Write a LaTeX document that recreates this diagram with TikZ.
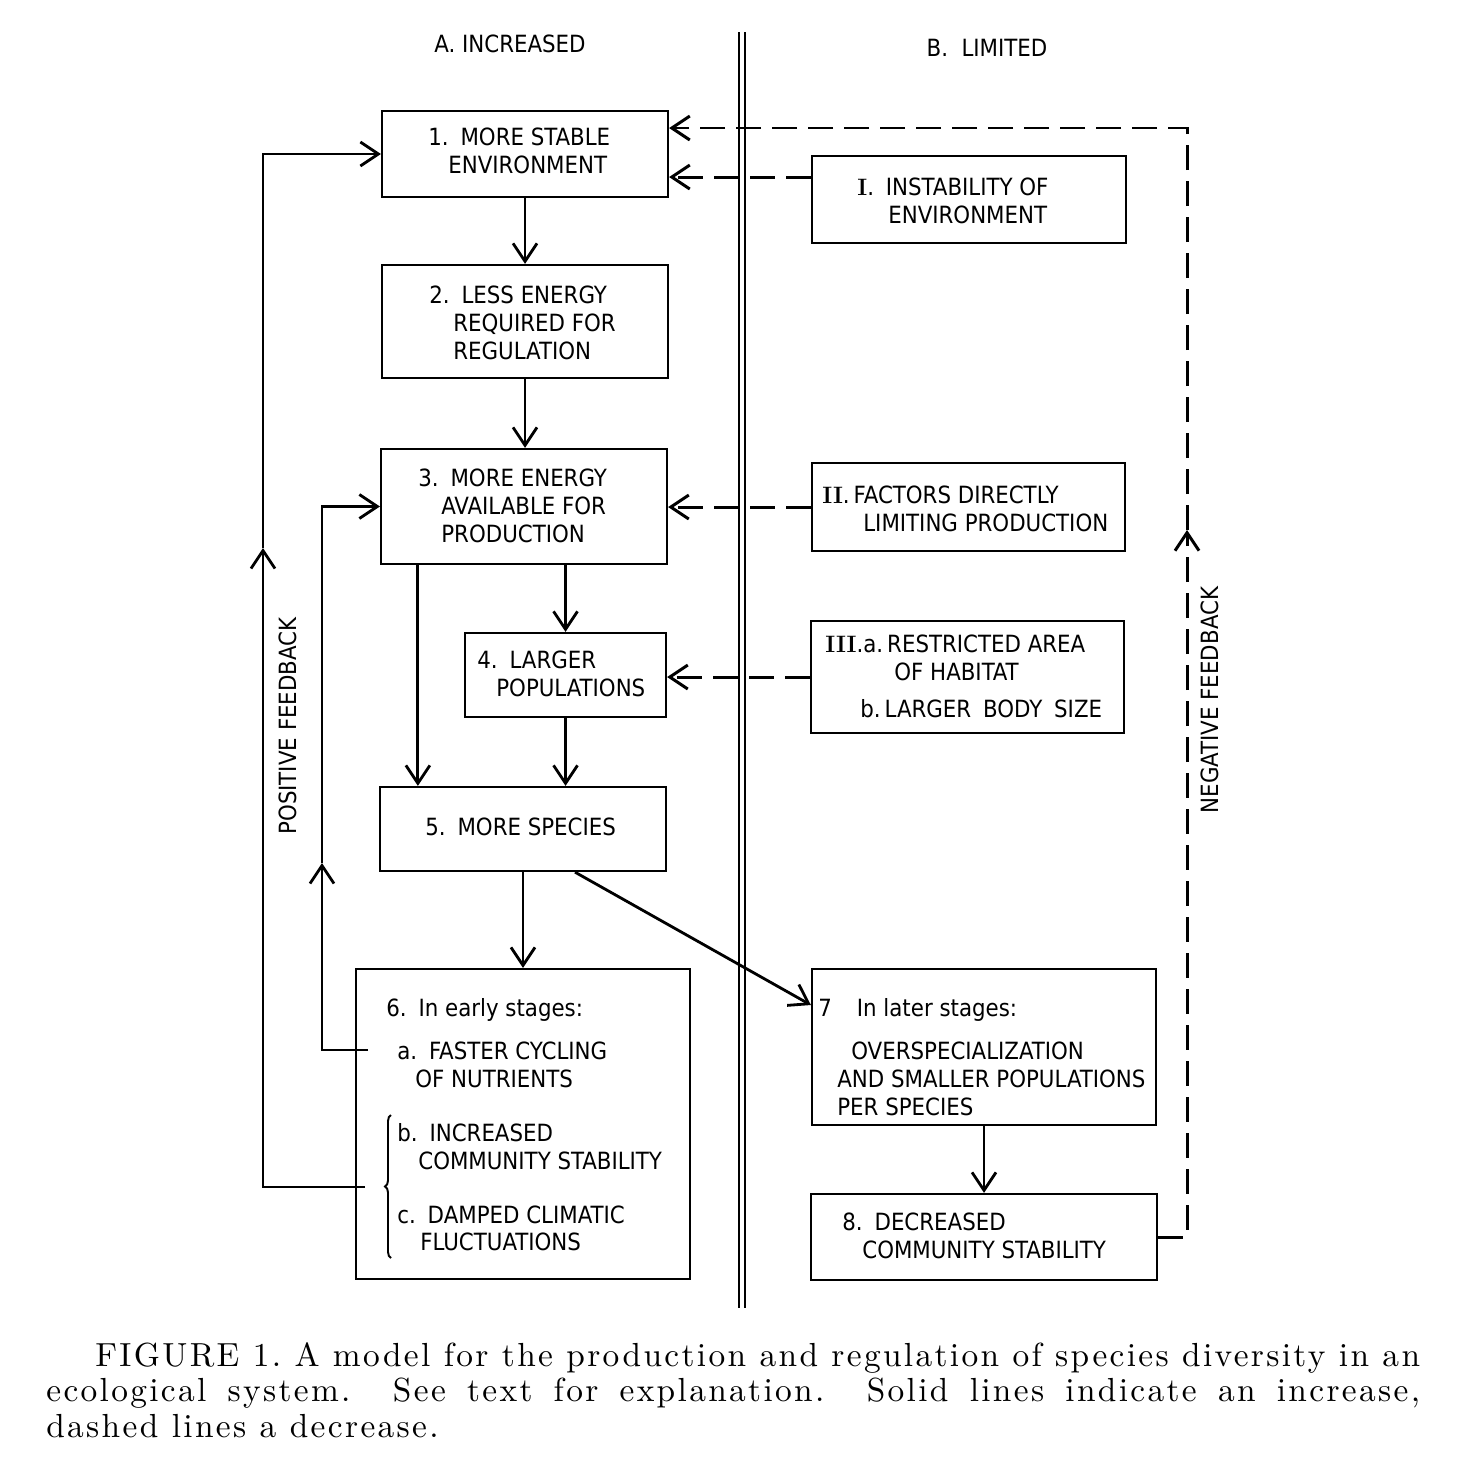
\documentclass[tikz,border=0pt]{standalone}
\usepackage{fontspec}
\usepackage{tikz}
\usetikzlibrary{arrows.meta,decorations.pathreplacing}
\newfontfamily\boxfont{DejaVu Sans Condensed}
\newfontfamily\capfont{lmroman10-regular.otf}[LetterSpace=7]
\newlength{\px}
\setlength{\px}{0.02cm}

\begin{document}
\begin{tikzpicture}[x=0.02cm, y=-0.02cm,
    >={Straight Barb[length=0.36cm,width=0.48cm]},
    box/.style={draw, line width=1.3pt, inner sep=0pt},
    txt/.style={anchor=north west, inner sep=0pt, align=left,
      font=\boxfont\fontsize{13.5pt}{15.9pt}\selectfont},
    head/.style={inner sep=0pt, font=\boxfont\fontsize{13.5pt}{15.9pt}\selectfont},
    flow/.style={->, line width=1.6pt},
    limit/.style={->, line width=1.7pt, dash pattern=on 0.5cm off 0.22cm}]
    \useasboundingbox (0,0) rectangle (1466,1474);

    % Column headings and the divider
    \node[head] (colA) at (510,44) {A.\ INCREASED};
    \node[head] (colB) at (987,48) {B.\ \ LIMITED};
    \draw[line width=1pt] (739,32) -- (739,1308);
    \draw[line width=1pt] (745,32) -- (745,1308);

    % Left column boxes
    \node[box, minimum width=5.72cm, minimum height=1.72cm] (b1) at (525,154) {};
    \node[box, minimum width=5.72cm, minimum height=2.26cm] (b2) at (525,321.5) {};
    \node[box, minimum width=5.72cm, minimum height=2.30cm] (b3) at (524,506.5) {};
    \node[box, minimum width=4.02cm, minimum height=1.68cm] (b4) at (565.5,675) {};
    \node[box, minimum width=5.72cm, minimum height=1.68cm] (b5) at (523,829) {};
    \node[box, minimum width=6.68cm, minimum height=6.20cm] (b6) at (523,1124) {};

    % Right column boxes
    \node[box, minimum width=6.28cm, minimum height=1.74cm] (bI) at (969,199.5) {};
    \node[box, minimum width=6.26cm, minimum height=1.76cm] (bII) at (968.5,507) {};
    \node[box, minimum width=6.26cm, minimum height=2.24cm] (bIII) at (967.5,677) {};
    \node[box, minimum width=6.88cm, minimum height=3.12cm] (b7) at (984,1047) {};
    \node[box, minimum width=6.92cm, minimum height=1.72cm] (b8) at (984,1237) {};

    % Box texts
    \node[txt] (t1) at (428,128) {1.\enspace MORE STABLE\\ \hspace*{20\px}ENVIRONMENT};
    \node[txt] (t2) at (429,286) {2.\enspace LESS ENERGY\\ \hspace*{24\px}REQUIRED FOR\\ \hspace*{24\px}REGULATION};
    \node[txt] (t3) at (418,469) {3.\enspace MORE ENERGY\\ \hspace*{23\px}AVAILABLE FOR\\ \hspace*{23\px}PRODUCTION};
    \node[txt] (t4) at (477,651) {4.\enspace LARGER\\ \hspace*{19\px}POPULATIONS};
    \node[txt] (t5) at (425,818) {5.\enspace MORE SPECIES};
    \node[txt] (t6) at (386,998) {6.\enspace In early stages:\\[0.3cm]
      \hspace*{11\px}a.\enspace FASTER CYCLING\\ \hspace*{29\px}OF NUTRIENTS\\[0.52cm]
      \hspace*{11\px}b.\enspace INCREASED\\ \hspace*{32\px}COMMUNITY STABILITY\\[0.52cm]
      \hspace*{11\px}c.\enspace DAMPED CLIMATIC\\ \hspace*{34\px}FLUCTUATIONS};
    \node[txt] (tI) at (857,178) {{\rmfamily\bfseries I}.\enspace INSTABILITY OF\\ \hspace*{31\px}ENVIRONMENT};
    \node[txt] (tII) at (822,486) {{\rmfamily\bfseries II}.\,FACTORS DIRECTLY\\ \hspace*{41\px}LIMITING PRODUCTION};
    \node[txt] (tIII) at (825,635) {{\rmfamily\bfseries III}.a.\,RESTRICTED AREA\\ \hspace*{69\px}OF HABITAT\\[0.18cm]
      \hspace*{35\px}b.\,LARGER\enspace BODY\enspace SIZE};
    \node[txt] (t7) at (818,998) {7\hspace{25\px}In later stages:\\[0.3cm]
      \hspace*{33\px}OVERSPECIALIZATION\\ \hspace*{19\px}AND SMALLER POPULATIONS\\ \hspace*{19\px}PER SPECIES};
    \node[txt] (t8) at (842,1213) {8.\enspace DECREASED\\ \hspace*{20\px}COMMUNITY STABILITY};

    % Brace in box 6
    \draw[line width=1.1pt, decorate, decoration={brace, amplitude=0.12cm}] (391,1258) -- (391,1115);

    % Solid arrows (increase)
    \draw[flow] (b1.south) -- (b2.north);
    \draw[flow] (b2.south) -- (b2.south |- b3.north);
    \draw[flow] (b3.south -| b4.north) -- (b4.north);
    \coordinate (p35) at ([xshift=0.76cm]b3.south west);
    \draw[flow] (p35) -- (p35 |- b5.north);
    \draw[flow] (b4.south) -- (b4.south |- b5.north);
    \draw[flow] (b5.south) -- (b6.north);
    \coordinate (p57) at ([xshift=1.04cm]b5.south);
    \coordinate (q57) at ([yshift=0.84cm]b7.west);
    \draw[flow] (p57) -- (q57);
    \draw[flow] (b7.south) -- (b8.north);

    % Positive feedback loops
    \coordinate (fa) at (368,1050);
    \coordinate (fb) at (365,1187);
    \coordinate (pf1) at (263,548);
    \coordinate (pf2) at (322,863);
    \draw[flow] (fb) -| (pf1);
    \draw[flow] (pf1) |- (b1.west);
    \draw[flow] (fa) -| (pf2);
    \draw[flow] (pf2) |- (b3.west);
    \node[head, rotate=90] (posfb) at (288,726) {POSITIVE FEEDBACK};

    % Dashed arrows (decrease)
    \coordinate (i1) at ([yshift=0.45cm]bI.west);
    \draw[limit] (i1) -- (i1 -| b1.east);
    \draw[limit] (bII.west) -- (bII.west -| b3.east);
    \draw[limit] (bIII.west) -- (bIII.west -| b4.east);

    % Negative feedback loop
    \coordinate (nf1) at (1187,530);
    \coordinate (nf2) at (1187,128);
    \draw[limit] (b8.east) -| (nf1);
    \draw[limit] (nf1) -- (nf2) -- (nf2 -| b1.east);
    \node[head, rotate=90] (negfb) at (1210,700) {NEGATIVE FEEDBACK};

    % Caption
    \node[anchor=north west, inner sep=0pt, text width=27.48cm, align=justify,
      font=\capfont\fontsize{19pt}{20.2pt}\selectfont] (cap) at (46,1342)
      {\noindent\hspace*{0.98cm}FIGURE 1.\ A model for the production and regulation of species diversity in an\linebreak
       ecological system.\ \ See text for explanation.\ \ Solid lines indicate an increase,\linebreak
       dashed lines a decrease.};
\end{tikzpicture}
\end{document}
